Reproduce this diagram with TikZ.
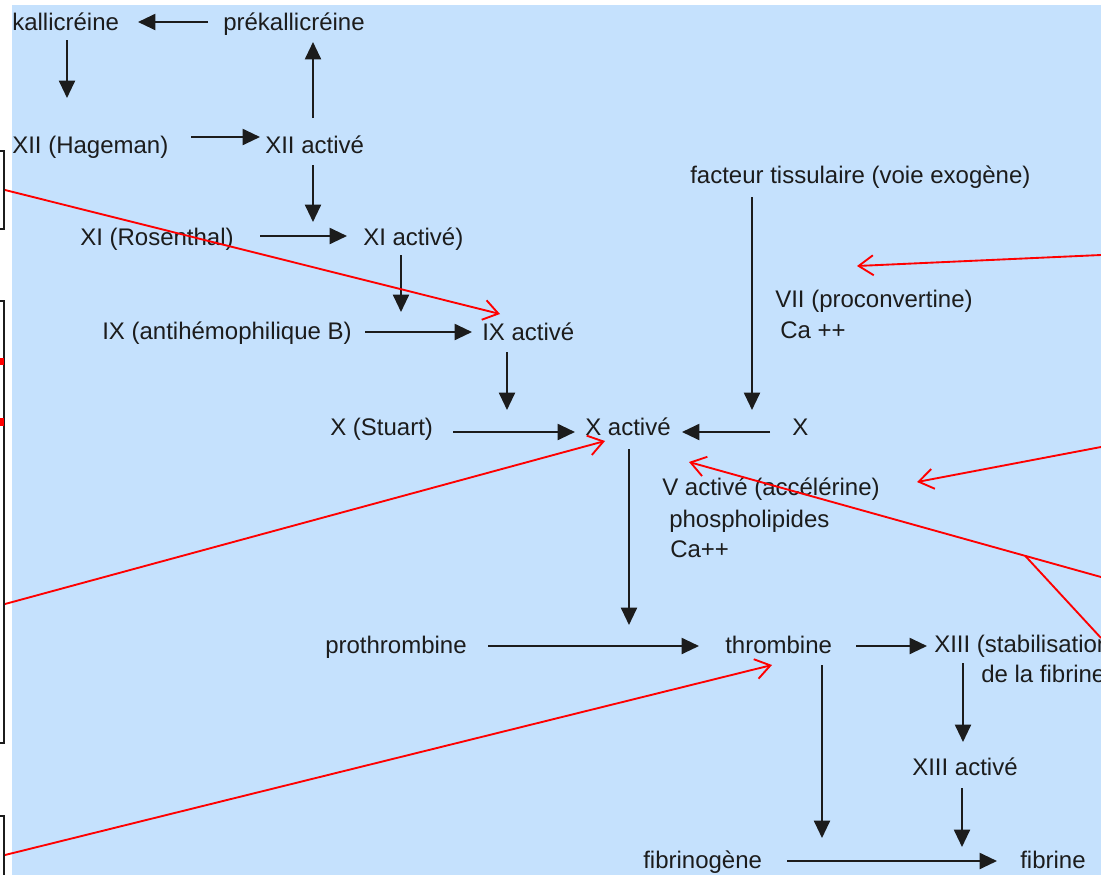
\documentclass[tikz,border=0pt]{standalone}
\usepackage{fontspec}
\setmainfont{Liberation Sans}
\usetikzlibrary{arrows.meta,calc}
\definecolor{bg}{RGB}{197,225,253}
\definecolor{ink}{RGB}{28,28,28}
\definecolor{rl}{RGB}{255,0,0}
\begin{document}
\begin{tikzpicture}[x=0.75pt,y=-0.75pt,
  lbl/.style={anchor=base west,inner sep=0pt,text=ink,font=\fontsize{18pt}{21pt}\selectfont},
  arr/.style={draw=ink,line width=1.5pt,-{Triangle[length=13pt,width=12pt]}},
  redarr/.style={draw=rl,line width=1.4pt,-{Straight Barb[length=11pt,width=15pt,line width=1.4pt]}},
  redline/.style={draw=rl,line width=1.4pt},
  box/.style={draw=ink,line width=1.5pt,fill=white,anchor=north east,minimum width=40pt,inner sep=0pt}]
\useasboundingbox (0,0) rectangle (1101,875);
\clip (0,0) rectangle (1101,875);
\fill[white] (0,0) rectangle (1101,875);
\fill[bg] (12,5) rectangle (1101,875);

% left boxes
\node[box,minimum height=58.5pt] (b1) at (5,150) {};
\node[box,minimum height=331.5pt] (b2) at (5,300) {};
\node[box,minimum height=67.5pt] (b3) at (5,815) {};
\fill[rl] (0,358) rectangle (4,365);
\fill[rl] (0,418) rectangle (4,426);

% labels
\node[lbl] (kal) at (12,30) {kallicréine};
\node[lbl] (prek) at (223,30) {prékallicréine};
\node[lbl] (xii) at (12,153) {XII (Hageman)};
\node[lbl] (xiia) at (265,153) {XII activé};
\node[lbl] (xi) at (80,245) {XI (Rosenthal)};
\node[lbl] (xia) at (363,245) {XI activé)};
\node[lbl] (ix) at (102,339) {IX (antihémophilique B)};
\node[lbl] (ixa) at (482,340) {IX activé};
\node[lbl] (x) at (330,435) {X (Stuart)};
\node[lbl] (xa) at (585,435) {X activé};
\node[lbl] (xr) at (792,435) {X};
\node[lbl] (va) at (662,495) {V activé (accélérine)};
\node[lbl] (phos) at (669,527) {phospholipides};
\node[lbl] (caa) at (670,557) {Ca++};
\node[lbl] (ft) at (690,183) {facteur tissulaire (voie exogène)};
\node[lbl] (vii) at (775,307) {VII (proconvertine)};
\node[lbl] (cab) at (780,338) {Ca ++};
\node[lbl] (proth) at (325,653) {prothrombine};
\node[lbl] (thr) at (725,653) {thrombine};
\node[lbl] (xiii) at (934,652) {XIII (stabilisation};
\node[lbl] (xiiib) at (981,682) {de la fibrine};
\node[lbl] (xiiia) at (912,775) {XIII activé};
\node[lbl] (fibg) at (643,868) {fibrinogène};
\node[lbl] (fib) at (1020,868) {fibrine};

% black arrows
\draw[arr] ([shift={(-15,-8)}]prek.base west) -- ([shift={(126,-8)}]kal.base west);
\draw[arr] ([shift={(55,10)}]kal.base west) -- ([shift={(55,-55)}]xii.base west);
\draw[arr] ([shift={(179,-16)}]xii.base west) -- ([shift={(-5,-16)}]xiia.base west);
\draw[arr] ([shift={(48,-35)}]xiia.base west) -- ([shift={(90,12)}]prek.base west);
\draw[arr] ([shift={(48,12)}]xiia.base west) -- ([shift={(-50,-23)}]xia.base west);
\draw[arr] ([shift={(180,-9)}]xi.base west) -- ([shift={(-16,-9)}]xia.base west);
\draw[arr] ([shift={(38,10)}]xia.base west) -- ([shift={(-81,-28)}]ixa.base west);
\draw[arr] ([shift={(263,-7)}]ix.base west) -- ([shift={(-10,-8)}]ixa.base west);
\draw[arr] ([shift={(25,12)}]ixa.base west) -- ([shift={(-78,-25)}]xa.base west);
\draw[arr] ([shift={(123,-3)}]x.base west) -- ([shift={(-10,-3)}]xa.base west);
\draw[arr] ([shift={(-22,-3)}]xr.base west) -- ([shift={(97,-3)}]xa.base west);
\draw[arr] ([shift={(62,14)}]ft.base west) -- ([shift={(167,-25)}]xa.base west);
\draw[arr] ([shift={(44,14)}]xa.base west) -- ([shift={(-96,-28)}]thr.base west);
\draw[arr] ([shift={(163,-7)}]proth.base west) -- ([shift={(-26,-7)}]thr.base west);
\draw[arr] ([shift={(131,-7)}]thr.base west) -- ([shift={(-7,-6)}]xiii.base west);
\draw[arr] ([shift={(29,11)}]xiii.base west) -- ([shift={(51,-33)}]xiiia.base west);
\draw[arr] ([shift={(97,12)}]thr.base west) -- ([shift={(179,-30)}]fibg.base west);
\draw[arr] ([shift={(50,13)}]xiiia.base west) -- ([shift={(-58,-21)}]fib.base west);
\draw[arr] ([shift={(144,-7)}]fibg.base west) -- ([shift={(-23,-7)}]fib.base west);

% red connectors
\coordinate (e4) at (1101,255);
\coordinate (e5) at (1101,447);
\coordinate (e6) at (1101,577);
\coordinate (e7) at (1101,638);
\draw[redarr] (b1.east) -- ([shift={(18,-26)}]ixa.base west);
\draw[redarr] ([yshift=-61.5pt]b2.east) -- ([shift={(20,6)}]xa.base west);
\draw[redarr] ([yshift=4.5pt]b3.east) -- ([shift={(47,12)}]thr.base west);
\draw[redarr] (e4) -- ([shift={(82,-41)}]vii.base west);
\draw[redarr] (e5) -- ([shift={(255,-13)}]va.base west);
\draw[redarr] (e6) -- coordinate[pos=0.184] (j) ([shift={(104,27)}]xa.base west);
\draw[redline] (e7) -- (j);
\end{tikzpicture}
\end{document}
